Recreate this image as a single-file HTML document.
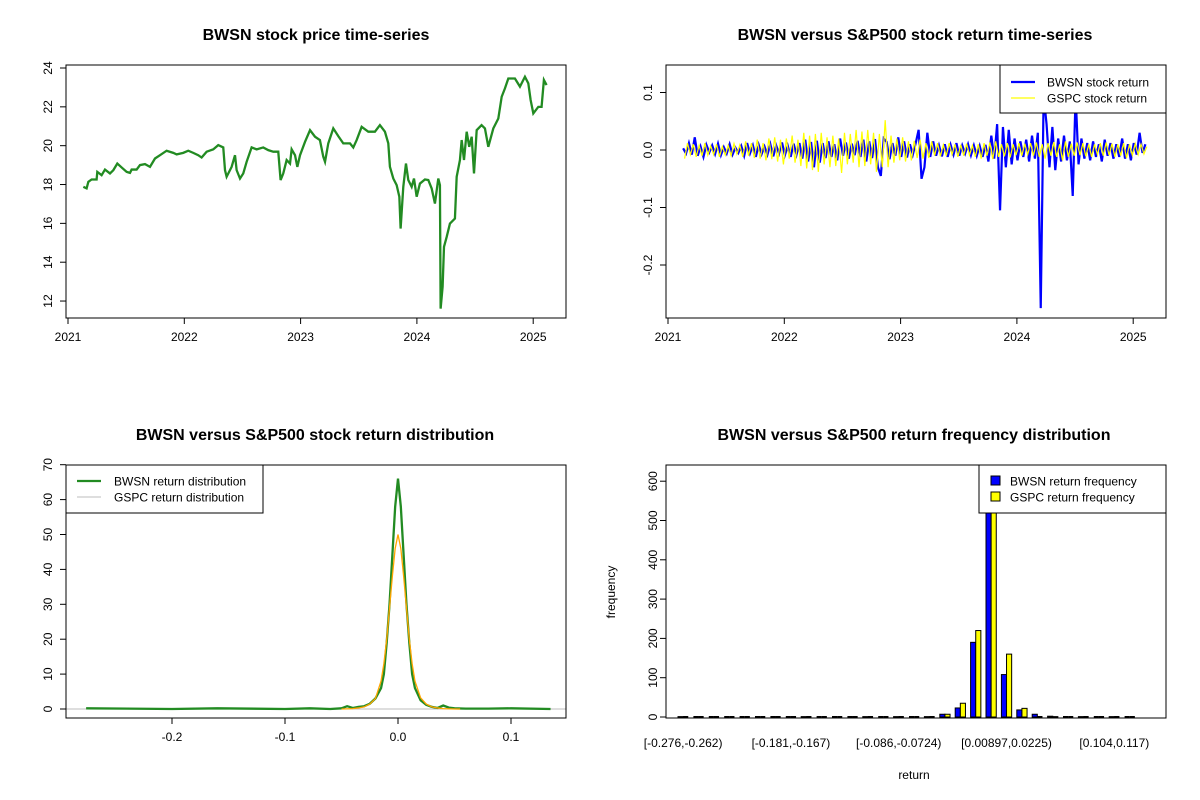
<!DOCTYPE html>
<html><head><meta charset="utf-8"><style>
html,body{margin:0;padding:0;background:#fff}
svg{display:block;font-family:"Liberation Sans",Arial,sans-serif}
</style></head><body>
<svg id="s" width="1200" height="800" viewBox="0 0 1200 800"></svg>
<script>
// ---------- DATA ----------
const priceDates=[2021.132,2021.160,2021.175,2021.203,2021.246,2021.252,2021.289,2021.318,2021.361,2021.390,2021.424,2021.461,2021.504,2021.533,2021.547,2021.590,2021.619,2021.662,2021.705,2021.748,2021.791,2021.848,2021.905,2021.934,2021.991,2022.034,2022.077,2022.120,2022.149,2022.192,2022.249,2022.292,2022.335,2022.350,2022.364,2022.407,2022.436,2022.450,2022.479,2022.507,2022.536,2022.579,2022.622,2022.679,2022.722,2022.765,2022.808,2022.828,2022.851,2022.880,2022.909,2022.923,2022.952,2022.972,2022.995,2023.038,2023.081,2023.124,2023.166,2023.195,2023.210,2023.238,2023.281,2023.324,2023.367,2023.425,2023.453,2023.482,2023.525,2023.582,2023.639,2023.682,2023.725,2023.754,2023.768,2023.797,2023.826,2023.849,2023.860,2023.883,2023.906,2023.926,2023.955,2023.975,2023.998,2024.026,2024.069,2024.098,2024.127,2024.155,2024.184,2024.198,2024.204,2024.221,2024.233,2024.256,2024.284,2024.327,2024.342,2024.370,2024.385,2024.405,2024.428,2024.450,2024.471,2024.491,2024.514,2024.556,2024.585,2024.614,2024.657,2024.700,2024.729,2024.757,2024.786,2024.843,2024.886,2024.929,2024.958,2024.978,2025.001,2025.044,2025.072,2025.092,2025.115];
const priceValues=[17.88,17.80,18.14,18.26,18.26,18.65,18.48,18.77,18.57,18.74,19.08,18.88,18.65,18.60,18.77,18.77,19.00,19.05,18.91,19.34,19.51,19.74,19.63,19.55,19.63,19.74,19.63,19.51,19.39,19.69,19.81,20.03,19.91,18.74,18.40,18.91,19.51,18.74,18.31,18.57,19.17,19.91,19.81,19.91,19.77,19.69,19.69,18.23,18.57,19.26,19.08,19.81,19.51,18.91,19.51,20.20,20.80,20.46,20.29,19.43,19.17,20.12,20.89,20.49,20.12,20.12,19.91,20.29,20.97,20.72,20.72,21.06,20.72,20.12,18.91,18.31,17.97,17.37,15.73,17.88,19.08,18.23,17.88,18.31,17.37,18.05,18.26,18.23,17.80,17.02,18.31,17.97,11.61,12.73,14.79,15.30,15.99,16.25,18.40,19.26,20.29,19.26,20.72,19.94,20.46,18.57,20.80,21.06,20.89,19.94,20.89,21.40,22.52,22.95,23.46,23.46,23.04,23.55,23.21,22.35,21.66,22.00,22.00,23.38,23.12];
const priceYTicks=[12,14,16,18,20,22,24];
const yearTicks=[2021,2022,2023,2024,2025];
const returnStart=2021.13, returnStep=0.025;
const bwsnReturns=[0.003,-0.006,0.012,-0.008,0.022,-0.010,0.006,-0.012,0.009,-0.004,
0.008,-0.007,0.011,-0.009,0.005,-0.006,0.010,-0.008,0.004,-0.005,
0.007,-0.010,0.012,-0.006,0.008,-0.012,0.009,-0.007,0.006,-0.008,
0.010,-0.011,0.008,-0.006,0.013,-0.009,0.007,-0.012,0.011,-0.008,
0.012,-0.015,0.018,-0.020,0.014,-0.030,0.016,-0.022,0.012,-0.014,
0.015,-0.012,0.010,-0.018,0.020,-0.010,0.013,-0.015,0.011,-0.009,
0.016,-0.012,0.018,-0.020,0.015,-0.014,0.019,-0.030,-0.045,0.020,
0.014,-0.016,0.012,-0.010,0.022,-0.012,0.015,-0.013,0.010,-0.008,
0.012,0.035,-0.050,-0.030,0.030,-0.012,0.015,-0.010,0.008,-0.011,
0.010,-0.012,0.009,-0.008,0.012,-0.010,0.008,-0.006,0.010,-0.009,
0.008,-0.010,0.007,-0.012,0.009,-0.020,0.025,-0.015,0.045,-0.105,
0.040,-0.030,0.035,-0.025,0.020,-0.018,0.015,-0.012,0.018,-0.020,
0.025,-0.015,0.030,-0.275,0.095,0.045,-0.030,0.040,-0.035,0.020,
-0.020,0.025,-0.018,0.015,-0.080,0.095,-0.025,0.020,-0.015,0.012,
-0.018,0.015,-0.012,0.010,-0.020,0.018,-0.010,0.012,-0.015,0.010,
-0.012,0.020,-0.015,0.010,-0.018,0.012,-0.008,0.030,-0.005,0.010];
const gspcReturns=[-0.015,0.012,-0.008,0.010,-0.012,0.008,-0.010,0.012,-0.009,0.007,
-0.008,0.010,-0.012,0.006,-0.009,0.008,-0.010,0.011,-0.007,0.009,
-0.012,0.015,-0.010,0.012,-0.014,0.018,-0.015,0.012,-0.018,0.020,
-0.016,0.022,-0.020,0.018,-0.025,0.020,-0.015,0.025,-0.022,0.018,
-0.028,0.030,-0.032,0.025,-0.035,0.028,-0.038,0.030,-0.025,0.022,
-0.030,0.025,-0.028,0.020,-0.040,0.030,-0.025,0.028,-0.022,0.035,
-0.030,0.032,-0.028,0.035,-0.025,0.030,-0.038,0.028,-0.030,0.052,
-0.030,0.025,-0.022,0.020,-0.018,0.022,-0.020,0.015,-0.018,0.016,
-0.014,0.018,-0.015,0.012,-0.014,0.015,-0.010,0.012,-0.011,0.009,
-0.010,0.012,-0.008,0.010,-0.012,0.009,-0.010,0.011,-0.009,0.008,
-0.012,0.010,-0.015,0.012,-0.010,0.013,-0.016,0.015,-0.012,0.010,
-0.011,0.012,-0.013,0.010,-0.009,0.012,-0.010,0.011,-0.008,0.012,
-0.010,0.013,-0.012,0.010,-0.015,0.012,-0.010,0.014,-0.012,0.010,
-0.018,0.015,-0.012,0.011,-0.010,0.013,-0.009,0.012,-0.011,0.010,
-0.012,0.010,-0.008,0.012,-0.010,0.013,-0.009,0.011,-0.012,0.010,
-0.010,0.012,-0.014,0.010,-0.009,0.011,-0.008,0.010,-0.007,0.006];
const returnYTicks=[-0.2,-0.1,0.0,0.1];
const returnYLabels=["-0.2","-0.1","0.0","0.1"];
const densX=[-0.276,-0.2,-0.16,-0.1,-0.078,-0.06,-0.05,-0.045,-0.04,-0.035,-0.03,-0.025,-0.02,-0.015,-0.0125,-0.01,-0.0075,-0.005,-0.0025,0,0.0025,0.005,0.0075,0.01,0.0125,0.015,0.02,0.025,0.03,0.035,0.04,0.045,0.05,0.06,0.08,0.1,0.135];
const bwsnDensity=[0.2,0,0.2,0,0.2,0,0.2,0.8,0.3,0.6,0.8,1.5,3,6,10,19,30,44,58,66,58,44,30,19,10,6,2.5,1.2,0.6,0.3,1,0.4,0.2,0.1,0.1,0.2,0];
const gspcX=[-0.05,-0.04,-0.035,-0.03,-0.025,-0.02,-0.015,-0.0125,-0.01,-0.0075,-0.005,-0.0025,0,0.0025,0.005,0.0075,0.01,0.0125,0.015,0.02,0.025,0.03,0.035,0.04,0.05,0.055];
const gspcDensity=[0,0.1,0.3,0.6,1.4,3,8,13,20,29,38,46,50,46,38,29,20,13,8,3.2,1.4,0.6,0.3,0.1,0,0];
const densYTicks=[0,10,20,30,40,50,60,70];
const densXTicks=[-0.2,-0.1,0.0,0.1];
const densXLabels=["-0.2","-0.1","0.0","0.1"];
const binLabels=["[-0.276,-0.262)","[-0.181,-0.167)","[-0.086,-0.0724)","[0.00897,0.0225)","[0.104,0.117)"];
const binLabelIndex=[0,7,14,21,28];
const bwsnFreq=[1,0,0,0,0,0,0,0,1,0,0,0,1,0,1,0,1,7,23,190,620,108,18,7,2,0,1,0,1,0];
const gspcFreq=[0,0,0,0,0,0,0,0,0,0,0,0,0,0,0,0,0,7,35,220,600,160,22,0,1,0,0,0,0,0];
const freqYTicks=[0,100,200,300,400,500,600];

// ---------- helpers ----------
const S=document.getElementById('s');
const NS='http://www.w3.org/2000/svg';
function mk(tag,attrs,parent){const e=document.createElementNS(NS,tag);for(const k in attrs)e.setAttribute(k,attrs[k]);(parent||S).appendChild(e);return e;}
function txt(x,y,s,size,extra){const t=mk('text',Object.assign({x:x,y:y,'font-size':size,'text-anchor':'middle',fill:'#000'},extra||{}));t.textContent=s;return t;}
function group(name){const g=mk('g',{});return g;}

// ---------- Panel 1: price ----------
(function(){
 const L=66,R=566,T=65,B=318;
 const sx=v=>68+(v-2021)*116.3, sy=v=>68+(24-v)*19.42;
 const g=group('price-panel');
 const tt=txt(316,40,'BWSN stock price time-series',16,{'font-weight':'bold'});
 
 
 const ax=group('price-x-axis');
 yearTicks.forEach(y=>{mk('line',{x1:sx(y),x2:sx(y),y1:B,y2:B+6,stroke:'#000'},ax);const t=txt(sx(y),B+23,String(y),12);ax.appendChild(t);});
 mk('line',{x1:sx(2021),x2:sx(2025),y1:B,y2:B,stroke:'#000'},ax);
 const ay=group('price-y-axis');
 priceYTicks.forEach(v=>{mk('line',{x1:L,x2:L-6,y1:sy(v),y2:sy(v),stroke:'#000'},ay);const t=txt(52,sy(v),String(v),12,{transform:`rotate(-90 52 ${sy(v)})`});ay.appendChild(t);});
 mk('line',{x1:L,x2:L,y1:sy(12),y2:sy(24),stroke:'#000'},ay);
 const p=mk('polyline',{points:priceDates.map((d,i)=>sx(d)+','+sy(priceValues[i])).join(' '),fill:'none',stroke:'#228B22','stroke-width':2.3,'stroke-linejoin':'miter'},g);
 
 
 const b=mk('rect',{x:L,y:T,width:R-L,height:B-T,fill:'none',stroke:'#000'},g);
 
 
})();

// ---------- Panel 2: returns ----------
(function(){
 const L=666,R=1166,T=65,B=318;
 const sx=v=>668+(v-2021)*116.3, sy=v=>150-v*575;
 const g=group('returns-panel');
 const tt=txt(915,40,'BWSN versus S&P500 stock return time-series',16,{'font-weight':'bold'});
 
 
 const ax=group('returns-x-axis');
 yearTicks.forEach(y=>{mk('line',{x1:sx(y),x2:sx(y),y1:B,y2:B+6,stroke:'#000'},ax);ax.appendChild(txt(sx(y),B+23,String(y),12));});
 mk('line',{x1:sx(2021),x2:sx(2025),y1:B,y2:B,stroke:'#000'},ax);
 const ay=group('returns-y-axis');
 returnYTicks.forEach((v,i)=>{mk('line',{x1:L,x2:L-6,y1:sy(v),y2:sy(v),stroke:'#000'},ay);ay.appendChild(txt(652,sy(v),returnYLabels[i],12,{transform:`rotate(-90 652 ${sy(v)})`}));});
 mk('line',{x1:L,x2:L,y1:sy(-0.2),y2:sy(0.1),stroke:'#000'},ay);
 const pb=mk('polyline',{points:bwsnReturns.map((v,i)=>sx(returnStart+i*returnStep)+','+sy(v)).join(' '),fill:'none',stroke:'#0000FF','stroke-width':2.2},g);
 
 
 const py=mk('polyline',{points:gspcReturns.map((v,i)=>sx(returnStart+i*returnStep+0.0125)+','+sy(v)).join(' '),fill:'none',stroke:'#FFFF00','stroke-width':1.2},g);
 
 
 const lg=group('returns-legend');
 mk('rect',{x:1000,y:65,width:166,height:48,fill:'#fff',stroke:'#000'},lg);
 mk('line',{x1:1011,x2:1035,y1:82,y2:82,stroke:'#0000FF','stroke-width':2.2},lg);
 mk('line',{x1:1011,x2:1035,y1:98,y2:98,stroke:'#FFFF00','stroke-width':1.2},lg);
 lg.appendChild(txt(1047,86.5,'BWSN stock return',12,{'text-anchor':'start'}));
 lg.appendChild(txt(1047,102.5,'GSPC stock return',12,{'text-anchor':'start'}));
 const b=mk('rect',{x:L,y:T,width:R-L,height:B-T,fill:'none',stroke:'#000'},g);
 
 
})();

// ---------- Panel 3: density ----------
(function(){
 const L=66,R=566,T=465,B=718;
 const sx=v=>398+v*1130, sy=v=>709-v*3.49;
 const g=group('density-panel');
 const tt=txt(315,440,'BWSN versus S&P500 stock return distribution',16,{'font-weight':'bold'});
 
 
 const ax=group('density-x-axis');
 densXTicks.forEach((v,i)=>{mk('line',{x1:sx(v),x2:sx(v),y1:B,y2:B+6,stroke:'#000'},ax);ax.appendChild(txt(sx(v),B+23,densXLabels[i],12));});
 mk('line',{x1:sx(-0.2),x2:sx(0.1),y1:B,y2:B,stroke:'#000'},ax);
 const ay=group('density-y-axis');
 densYTicks.forEach(v=>{mk('line',{x1:L,x2:L-6,y1:sy(v),y2:sy(v),stroke:'#000'},ay);ay.appendChild(txt(52,sy(v),String(v),12,{transform:`rotate(-90 52 ${sy(v)})`}));});
 mk('line',{x1:L,x2:L,y1:sy(0),y2:sy(70),stroke:'#000'},ay);
 mk('line',{x1:L,x2:R,y1:sy(0),y2:sy(0),stroke:'#BEBEBE'},g);
 const pb=mk('polyline',{points:densX.map((x,i)=>sx(x)+','+sy(bwsnDensity[i])).join(' '),fill:'none',stroke:'#228B22','stroke-width':2.3},g);
 
 
 const po=mk('polyline',{points:gspcX.map((x,i)=>sx(x)+','+sy(gspcDensity[i])).join(' '),fill:'none',stroke:'#FFA500','stroke-width':1.3},g);
 
 
 const lg=group('density-legend');
 mk('rect',{x:66,y:465,width:197,height:48,fill:'#fff',stroke:'#000'},lg);
 mk('line',{x1:77,x2:101,y1:481,y2:481,stroke:'#228B22','stroke-width':2.3},lg);
 mk('line',{x1:77,x2:101,y1:497,y2:497,stroke:'#BEBEBE','stroke-width':1},lg);
 lg.appendChild(txt(114,485.5,'BWSN return distribution',12,{'text-anchor':'start'}));
 lg.appendChild(txt(114,501.5,'GSPC return distribution',12,{'text-anchor':'start'}));
 const b=mk('rect',{x:L,y:T,width:R-L,height:B-T,fill:'none',stroke:'#000'},g);
 
 
})();

// ---------- Panel 4: histogram ----------
(function(){
 const L=666,R=1166,T=465,B=718;
 const gw=15.4, bw=5.13, x0=678;
 const sy=v=>717-v*0.393;
 const g=group('frequency-panel');
 const tt=txt(914,440,'BWSN versus S&P500 return frequency distribution',16,{'font-weight':'bold'});
 
 
 const ay=group('frequency-y-axis');
 freqYTicks.forEach(v=>{mk('line',{x1:L,x2:L-6,y1:sy(v),y2:sy(v),stroke:'#000'},ay);ay.appendChild(txt(657,sy(v),String(v),12,{transform:`rotate(-90 657 ${sy(v)})`}));});
 mk('line',{x1:L,x2:L,y1:sy(0),y2:sy(600),stroke:'#000'},ay);
 const yl=txt(615,592,'frequency',12,{transform:'rotate(-90 615 592)'});
 
 
 const xl=txt(914,779,'return',12);
 
 
 function bar(x,v,fill){
  if(v>0) return mk('rect',{x:x,y:sy(v),width:bw,height:sy(0)-sy(v),fill:fill,stroke:'#000','stroke-width':1},g);
  return mk('line',{x1:x,x2:x+bw,y1:sy(0),y2:sy(0),stroke:'#000','stroke-width':2},g);
 }
 bwsnFreq.forEach((v,i)=>{
  const r=bar(x0+i*gw,v,'#0000FF');
  
  
 });
 gspcFreq.forEach((v,i)=>{
  const r=bar(x0+i*gw+bw,v,'#FFFF00');
  
  
 });
 const ax=group('frequency-x-axis');
 binLabels.forEach((s,i)=>{ax.appendChild(txt(x0+binLabelIndex[i]*gw+bw,747,s,12));});
 const lg=group('frequency-legend');
 mk('rect',{x:979,y:465,width:187,height:48,fill:'#fff',stroke:'#000'},lg);
 mk('rect',{x:991,y:476,width:9,height:9,fill:'#0000FF',stroke:'#000'},lg);
 mk('rect',{x:991,y:492,width:9,height:9,fill:'#FFFF00',stroke:'#000'},lg);
 lg.appendChild(txt(1010,485.5,'BWSN return frequency',12,{'text-anchor':'start'}));
 lg.appendChild(txt(1010,501.5,'GSPC return frequency',12,{'text-anchor':'start'}));
 const b=mk('rect',{x:L,y:T,width:R-L,height:B-T,fill:'none',stroke:'#000'},g);
 
 
})();
</script>
</body></html>
